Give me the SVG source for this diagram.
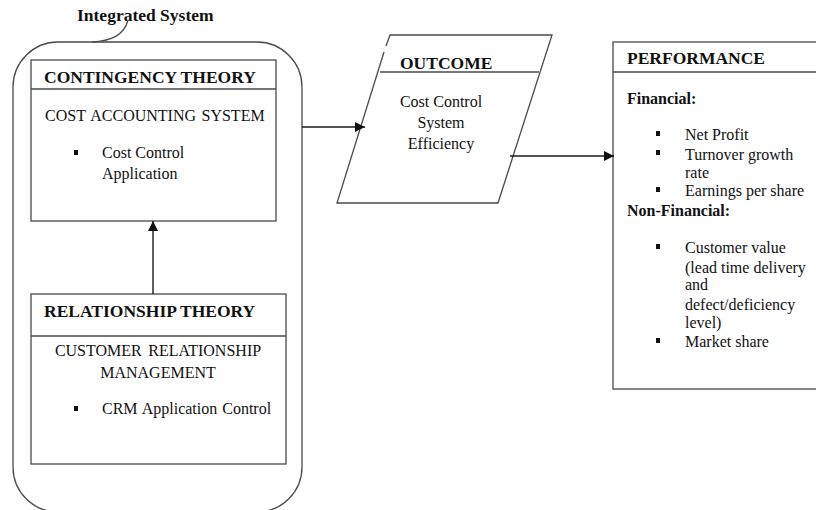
<svg xmlns="http://www.w3.org/2000/svg" width="816" height="510" viewBox="0 0 816 510">
  <defs>
    <style>
      .line { fill: none; stroke: #4a4a4a; stroke-width: 1.3; }
      .box { fill: #ffffff; stroke: #4a4a4a; stroke-width: 1.3; }
      .conn { fill: none; stroke: #1a1a1a; stroke-width: 1.4; }
      text { font-family: "Liberation Serif", "Times New Roman", serif; fill: #111111; }
      .head { font-weight: bold; font-size: 17.5px; }
      .sub { font-weight: bold; font-size: 16px; }
      .body { font-size: 16px; }
      .bullet { fill: #111111; }
    </style>
    <marker id="arrow" viewBox="0 0 10 10" refX="10" refY="5" markerWidth="11" markerHeight="10" markerUnits="userSpaceOnUse" orient="auto">
      <path d="M0,0 L10,5 L0,10 Z" fill="#111111"/>
    </marker>
  </defs>

  <!-- Integrated system boundary and its label -->
  <g id="integrated-system">
    <rect class="line" x="13" y="42" width="289" height="470" rx="45" ry="45"/>
    <text class="head" x="77" y="21">Integrated System</text>
    <path class="line" d="M128,20 C124,36 110,41 92,42"/>
  </g>

  <!-- Contingency theory -->
  <g id="contingency-theory">
    <rect class="box" x="31" y="60" width="245" height="161"/>
    <line class="line" x1="31" y1="89" x2="276" y2="89"/>
    <text class="head" x="44" y="83" font-size="17.8">CONTINGENCY THEORY</text>
    <text class="body" x="45" y="121" font-size="15" word-spacing="1.5">COST ACCOUNTING SYSTEM</text>
    <rect class="bullet" x="74" y="150" width="4" height="5"/>
    <text class="body" x="102" y="158">Cost Control</text>
    <text class="body" x="102" y="179">Application</text>
  </g>

  <!-- Relationship theory -->
  <g id="relationship-theory">
    <rect class="box" x="31" y="294" width="255" height="170"/>
    <line class="line" x1="31" y1="336" x2="286" y2="336"/>
    <text class="head" x="44" y="317" font-size="17.8">RELATIONSHIP THEORY</text>
    <text class="body" x="158" y="356" text-anchor="middle" font-size="15" word-spacing="2.5">CUSTOMER RELATIONSHIP</text>
    <text class="body" x="158" y="378" text-anchor="middle" font-size="15">MANAGEMENT</text>
    <rect class="bullet" x="74" y="406" width="4" height="5"/>
    <text class="body" x="102" y="414" word-spacing="1">CRM Application Control</text>
  </g>

  <!-- Outcome -->
  <g id="outcome">
    <path class="line" d="M386,46 L390,35 L552,35 L498,203 L337,203 L384,52"/>
    <line class="line" x1="380" y1="72" x2="539" y2="72"/>
    <text class="head" x="400" y="69" font-size="15.5">OUTCOME</text>
    <text class="body" x="441" y="107" text-anchor="middle">Cost Control</text>
    <text class="body" x="441" y="128" text-anchor="middle">System</text>
    <text class="body" x="441" y="149" text-anchor="middle">Efficiency</text>
  </g>

  <!-- Performance -->
  <g id="performance">
    <rect class="box" x="613" y="42" width="220" height="347"/>
    <line class="line" x1="613" y1="72" x2="816" y2="72"/>
    <text class="head" x="627" y="64">PERFORMANCE</text>
    <text class="sub" x="627" y="104">Financial:</text>
    <rect class="bullet" x="656" y="131" width="4" height="5"/>
    <text class="body" x="685" y="140">Net Profit</text>
    <rect class="bullet" x="656" y="150" width="4" height="5"/>
    <text class="body" x="685" y="160">Turnover growth</text>
    <text class="body" x="685" y="178">rate</text>
    <rect class="bullet" x="656" y="187" width="4" height="5"/>
    <text class="body" x="685" y="196">Earnings per share</text>
    <text class="sub" x="627" y="216">Non-Financial:</text>
    <rect class="bullet" x="656" y="244" width="4" height="5"/>
    <text class="body" x="685" y="253">Customer value</text>
    <text class="body" x="685" y="273">(lead time delivery</text>
    <text class="body" x="685" y="290">and</text>
    <text class="body" x="685" y="310">defect/deficiency</text>
    <text class="body" x="685" y="328">level)</text>
    <rect class="bullet" x="656" y="338" width="4" height="5"/>
    <text class="body" x="685" y="347">Market share</text>
  </g>

  <!-- Connectors -->
  <g id="connectors">
    <line class="conn" x1="153" y1="294" x2="153" y2="221" marker-end="url(#arrow)"/>
    <line class="conn" x1="302" y1="127" x2="365" y2="127" marker-end="url(#arrow)"/>
    <line class="conn" x1="510" y1="156" x2="614" y2="156" marker-end="url(#arrow)"/>
  </g>
</svg>
